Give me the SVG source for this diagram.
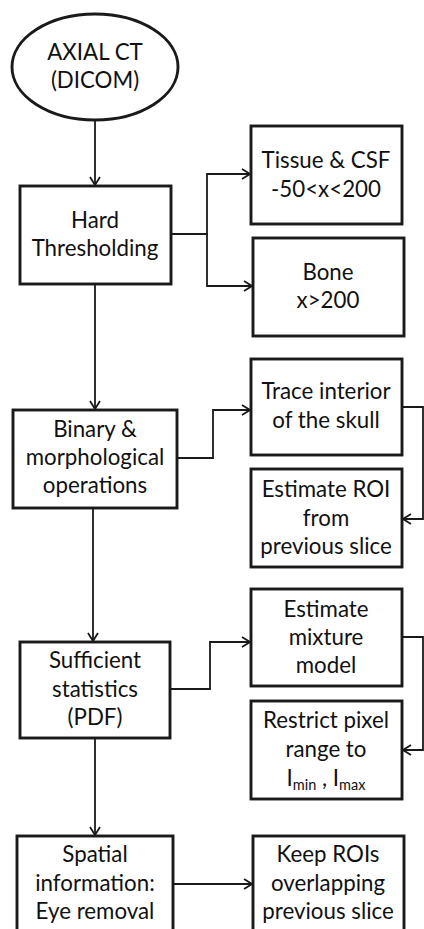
<svg xmlns="http://www.w3.org/2000/svg" width="424" height="929" viewBox="0 0 424 929">
<style>
.box{fill:#fff;stroke:#1a1a1a;stroke-width:2.9}
.t{font-family:Lato,"Liberation Sans",sans-serif;font-size:22.3px;fill:#111;text-anchor:middle}
.c{fill:none;stroke:#1a1a1a;stroke-width:1.8}
.s{font-size:14.5px}
</style>
<defs>
<marker id="a" viewBox="0 0 10 12" refX="9" refY="6" markerWidth="10" markerHeight="12" markerUnits="userSpaceOnUse" orient="auto">
<path d="M1,1 L9,6 L1,11" fill="none" stroke="#1a1a1a" stroke-width="1.8"/>
</marker>
</defs>
<rect width="424" height="929" fill="#fff"/>
<g id="connectors">
<path class="c" d="M95,120 V185" marker-end="url(#a)"/>
<path class="c" d="M171,234 H207 V174 H250" marker-end="url(#a)"/>
<path class="c" d="M207,234 V286 H252" marker-end="url(#a)"/>
<path class="c" d="M95,284 V409" marker-end="url(#a)"/>
<path class="c" d="M177,458 H213 V410 H250" marker-end="url(#a)"/>
<path class="c" d="M402,407 H423 V519 H403" marker-end="url(#a)"/>
<path class="c" d="M93,508 V641" marker-end="url(#a)"/>
<path class="c" d="M170,689 H210 V642 H250" marker-end="url(#a)"/>
<path class="c" d="M402,637 H423 V750 H403" marker-end="url(#a)"/>
<path class="c" d="M95,738 V835" marker-end="url(#a)"/>
<path class="c" d="M173,884 H252" marker-end="url(#a)"/>
</g>
<g id="axial">
<ellipse class="box" cx="95" cy="67" rx="83" ry="53"/>
<text class="t" x="95" y="60">AXIAL CT</text>
<text class="t" x="95" y="88">(DICOM)</text>
</g>
<g id="hard">
<rect class="box" x="20" y="186" width="151" height="98"/>
<text class="t" x="95" y="228">Hard</text>
<text class="t" x="95" y="256">Thresholding</text>
</g>
<g id="tissue">
<rect class="box" x="251" y="126" width="151" height="98"/>
<text class="t" x="326" y="168">Tissue &amp; CSF</text>
<text class="t" x="326" y="197">-50&lt;x&lt;200</text>
</g>
<g id="bone">
<rect class="box" x="253" y="238" width="151" height="98"/>
<text class="t" x="328" y="280">Bone</text>
<text class="t" x="328" y="308">x&gt;200</text>
</g>
<g id="binary">
<rect class="box" x="13" y="410" width="164" height="98"/>
<text class="t" x="95" y="437">Binary &amp;</text>
<text class="t" x="95" y="465">morphological</text>
<text class="t" x="95" y="493">operations</text>
</g>
<g id="trace">
<rect class="box" x="251" y="359" width="151" height="96"/>
<text class="t" x="326" y="399">Trace interior</text>
<text class="t" x="326" y="428">of the skull</text>
</g>
<g id="roi">
<rect class="box" x="251" y="469" width="151" height="98"/>
<text class="t" x="326" y="497">Estimate ROI</text>
<text class="t" x="326" y="526">from</text>
<text class="t" x="326" y="554">previous slice</text>
</g>
<g id="sufficient">
<rect class="box" x="20" y="642" width="150" height="96"/>
<text class="t" x="95" y="668">Sufficient</text>
<text class="t" x="95" y="697">statistics</text>
<text class="t" x="95" y="725">(PDF)</text>
</g>
<g id="mixture">
<rect class="box" x="251" y="589" width="151" height="97"/>
<text class="t" x="326" y="617">Estimate</text>
<text class="t" x="326" y="645">mixture</text>
<text class="t" x="326" y="673">model</text>
</g>
<g id="restrict">
<rect class="box" x="251" y="701" width="151" height="98"/>
<text class="t" x="326" y="728">Restrict pixel</text>
<text class="t" x="326" y="757">range to</text>
<text class="t" x="326" y="786">I<tspan class="s" dy="4">min</tspan><tspan dy="-4"> , I</tspan><tspan class="s" dy="4">max</tspan></text>
</g>
<g id="spatial">
<rect class="box" x="17" y="836" width="156" height="100"/>
<text class="t" x="95" y="862">Spatial</text>
<text class="t" x="95" y="891">information:</text>
<text class="t" x="95" y="919">Eye removal</text>
</g>
<g id="keep">
<rect class="box" x="253" y="836" width="151" height="100"/>
<text class="t" x="328" y="862">Keep ROIs</text>
<text class="t" x="328" y="891">overlapping</text>
<text class="t" x="328" y="919">previous slice</text>
</g>
</svg>
